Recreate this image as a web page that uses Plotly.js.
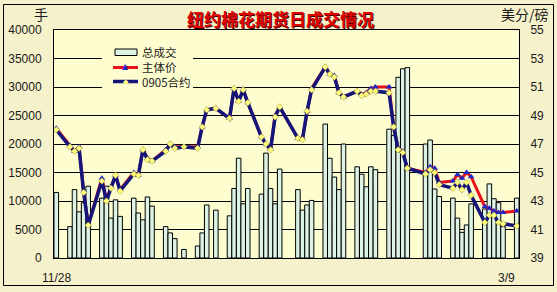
<!DOCTYPE html>
<html>
<head>
<meta charset="utf-8">
<script src="https://cdn.plot.ly/plotly-3.0.1.min.js"></script>
<style>
  html, body { margin: 0; padding: 0; background: #F5F1CB; }
  #chart { width: 557px; height: 292px; }
</style>
</head>
<body>
<div id="chart"></div>
<script>
// NY cotton futures: daily volume (lots) and prices (cents/lb)
const tradeDates = [
  '2008-11-28','2008-12-01','2008-12-02','2008-12-03','2008-12-04','2008-12-05',
  '2008-12-08','2008-12-09','2008-12-10','2008-12-11','2008-12-12',
  '2008-12-15','2008-12-16','2008-12-17','2008-12-18','2008-12-19',
  '2008-12-22','2008-12-23','2008-12-24','2008-12-26',
  '2008-12-29','2008-12-30','2008-12-31','2009-01-02',
  '2009-01-05','2009-01-06','2009-01-07','2009-01-08','2009-01-09',
  '2009-01-12','2009-01-13','2009-01-14','2009-01-15','2009-01-16',
  '2009-01-20','2009-01-21','2009-01-22','2009-01-23',
  '2009-01-26','2009-01-27','2009-01-28','2009-01-29','2009-01-30',
  '2009-02-02','2009-02-03','2009-02-04','2009-02-05','2009-02-06',
  '2009-02-09','2009-02-10','2009-02-11','2009-02-12','2009-02-13',
  '2009-02-17','2009-02-18','2009-02-19','2009-02-20',
  '2009-02-23','2009-02-24','2009-02-25','2009-02-26','2009-02-27',
  '2009-03-02','2009-03-03','2009-03-04','2009-03-05','2009-03-06',
  '2009-03-09'
];

// 总成交 (lots)
const totalVolume = [
  11500, 5500, 12000, 8100, 9700, 12600,
  10500, 12600, 7000, 10200, 7300,
  10500, 7900, 6700, 10700, 9100,
  5500, 4400, 3400, 1500,
  2100, 4400, 9300, 8400,
  7400, 12200, 17500, 9500, 12200,
  11200, 18400, 12200, 9500, 15600,
  12000, 8400, 9300, 10100,
  23500, 17500, 14200, 12000, 20000,
  16000, 14700, 12500, 16000, 15500,
  22600, 21500, 31700, 33200, 33400,
  20000, 20700, 12100, 10800,
  10500, 7000, 4500, 5800, 9500,
  8600, 13000, 10400, 9700, 5500,
  10500
];

// 主体价 (cents/lb)
const leadPrice = [
  48.1, 46.9, 46.5, 46.8, 43.7, 41.3,
  44.6, 43.1, 44.0, 44.8, 43.8,
  45.0, 44.8, 46.6, 46.0, 45.8,
  46.6, 47.0, 46.8, 46.8,
  46.8, 48.2, 49.4, 49.5,
  48.8, 50.9, 50.0, 50.85, 49.9,
  47.5, 47.0, 46.65, 49.0, 49.6,
  47.4, 47.4, 49.3, 50.9,
  52.4, 51.9, 51.8, 50.6, 50.3,
  50.7, 50.5, 50.6, 50.9, 51.0,
  51.0, 48.2, 46.7, 46.5, 45.3,
  45.0, 45.4, 45.3, 44.3,
  44.4, 44.85, 44.6, 45.0, 44.7,
  42.6, 42.5, 42.3, 42.2, 42.2,
  42.3
];

// 0905合约 (cents/lb)
const may09Price = [
  48.0, 46.8, 46.5, 46.7, 43.6, 41.3,
  44.4, 43.0, 43.9, 44.8, 43.7,
  44.9, 44.8, 46.6, 45.9, 45.8,
  46.5, 47.0, 46.7, 46.8,
  46.7, 48.2, 49.4, 49.5,
  48.8, 50.9, 50.0, 50.8, 49.9,
  47.5, 47.0, 46.6, 48.9, 49.6,
  47.4, 47.3, 49.3, 50.8,
  52.4, 51.9, 51.7, 50.6, 50.3,
  50.7, 50.4, 50.5, 50.7, 50.7,
  50.6, 48.2, 46.6, 46.4, 45.3,
  44.9, 45.2, 45.0, 44.15,
  43.9, 44.3, 43.8, 44.3, 43.4,
  41.5, 42.0, 42.0, 41.5, 41.4,
  41.25
];

const dateTickVals = ['2008-11-28', '2009-03-09'];
const dateTickText = ['11/28', '3/9'];
const seriesNames = ['总成交', '主体价', '0905合约'];

// ---- page geometry (pixels) ----
const W = 557, H = 292;
const M = { l: 54, r: 38, t: 30, b: 34 };
const PW = W - M.l - M.r, PH = H - M.t - M.b;
const fx = x => (x - M.l) / PW;          // pixel x -> paper x
const fy = y => (H - M.b - y) / PH;      // pixel y -> paper y

const PAPER_BG = '#F5F1CB';
const PLOT_BG = '#FEFDD0';
const BAR_FILL = '#DCF2E2';
const RED = '#E8121A';
const NAVY = '#14147A';
const TRI_BLUE = '#1E28C8';
const STAR_YELLOW = '#FFFF80';
const DAY_MS = 86400000;

const tickFont = { family: '"Liberation Sans", Arial, sans-serif', size: 12, color: '#1a1a1a' };
const cjk = '"Noto Sans CJK SC", "Noto Sans", sans-serif';

const traces = [
  {
    type: 'bar', name: seriesNames[0],
    x: tradeDates, y: totalVolume,
    width: DAY_MS,
    marker: { color: BAR_FILL, line: { color: '#000', width: 1 } },
    yaxis: 'y', showlegend: false
  },
  {
    type: 'scatter', mode: 'lines+markers', name: seriesNames[1],
    x: tradeDates, y: leadPrice, yaxis: 'y2',
    line: { color: RED, width: 3 },
    marker: { symbol: 'triangle-up', size: 6, color: TRI_BLUE },
    showlegend: false
  },
  {
    type: 'scatter', mode: 'lines+markers', name: seriesNames[2],
    x: tradeDates, y: may09Price, yaxis: 'y2',
    line: { color: NAVY, width: 3.5 },
    marker: { symbol: 'diamond', size: 5, color: STAR_YELLOW, line: { color: '#A09020', width: 0.5 } },
    showlegend: false
  }
];

// legend drawn as decorations inside the plot's upper-left corner
const legendShapes = [
  { type: 'rect', xref: 'paper', yref: 'paper', x0: fx(102), x1: fx(193), y0: fy(93), y1: fy(41),
    fillcolor: PLOT_BG, line: { width: 0 }, layer: 'above' },
  { type: 'rect', xref: 'paper', yref: 'paper', x0: fx(115), x1: fx(137), y0: fy(55.5), y1: fy(49),
    fillcolor: BAR_FILL, line: { color: '#000', width: 1 }, layer: 'above' },
  { type: 'line', xref: 'paper', yref: 'paper', x0: fx(113), x1: fx(138), y0: fy(67.5), y1: fy(67.5),
    line: { color: RED, width: 3 }, layer: 'above' },
  { type: 'line', xref: 'paper', yref: 'paper', x0: fx(113), x1: fx(138), y0: fy(81.5), y1: fy(81.5),
    line: { color: NAVY, width: 3.5 }, layer: 'above' },
  // outer frame
  { type: 'rect', xref: 'paper', yref: 'paper', x0: fx(3.5), x1: fx(553.5), y0: fy(285.5), y1: fy(4.5),
    fillcolor: 'rgba(0,0,0,0)', line: { color: '#000', width: 1 }, layer: 'above' }
];

const ann = (text, x, y, opts) => Object.assign({
  text, xref: 'paper', yref: 'paper', x: fx(x), y: fy(y),
  showarrow: false, xanchor: 'left', yanchor: 'middle'
}, opts || {});

const annotations = [
  // title with a dark drop shadow
  ann('<b>纽约棉花期货日成交情况</b>', 281, 19.5, { xanchor: 'center',
    font: { family: cjk, size: 17, color: '#4A0000' } }),
  ann('<b>纽约棉花期货日成交情况</b>', 280, 18.5, { xanchor: 'center',
    font: { family: cjk, size: 17, color: '#E00000' } }),
  // unit labels
  ann('手', 41, 14, { xanchor: 'center', font: { family: cjk, size: 14, color: '#1a1a1a' } }),
  ann('美分/磅', 525, 14, { xanchor: 'center', font: { family: cjk, size: 14, color: '#1a1a1a' } }),
  // legend text: one block, one line per series
  ann(seriesNames.join('<br>'), 140, 67, { align: 'left',
    font: { family: cjk, size: 11.5, color: '#1a1a1a' } }),
  ann('▲', 125.5, 66.5, { xanchor: 'center', font: { family: 'DejaVu Sans', size: 8, color: TRI_BLUE } }),
  ann('◆', 125.5, 81.5, { xanchor: 'center', font: { family: 'DejaVu Sans', size: 7, color: STAR_YELLOW } }),
  // date labels at both ends of the time axis
  { text: dateTickText[0], xref: 'x', yref: 'paper', x: dateTickVals[0], y: fy(277.5),
    xanchor: 'center', yanchor: 'middle', showarrow: false, font: tickFont },
  { text: dateTickText[1], xref: 'x', yref: 'paper', x: dateTickVals[1], y: fy(277.5),
    xanchor: 'right', yanchor: 'middle', showarrow: false, font: tickFont }
];

const layout = {
  width: W, height: H,
  margin: M,
  paper_bgcolor: PAPER_BG,
  plot_bgcolor: PLOT_BG,
  showlegend: false,
  bargap: 0,
  xaxis: {
    type: 'date',
    range: ['2008-11-27 12:00', '2009-03-09 12:00'],
    showgrid: false, zeroline: false,
    showticklabels: false, ticks: '',
    showline: true, mirror: true, linecolor: '#000', linewidth: 1
  },
  yaxis: {
    range: [0, 40000], dtick: 5000, tick0: 0,
    showgrid: true, gridcolor: '#000', gridwidth: 1,
    zeroline: false,
    showline: true, linecolor: '#000', linewidth: 1,
    ticks: '', ticklabelstandoff: 9,
    tickfont: tickFont, tickformat: 'd'
  },
  yaxis2: {
    overlaying: 'y', side: 'right',
    range: [39, 55], dtick: 2, tick0: 39,
    showgrid: false, zeroline: false,
    showline: true, linecolor: '#000', linewidth: 1,
    ticks: '', ticklabelstandoff: 8,
    tickfont: tickFont
  },
  shapes: legendShapes,
  annotations: annotations
};

Plotly.newPlot('chart', traces, layout, { staticPlot: true, displayModeBar: false });
</script>
</body>
</html>
